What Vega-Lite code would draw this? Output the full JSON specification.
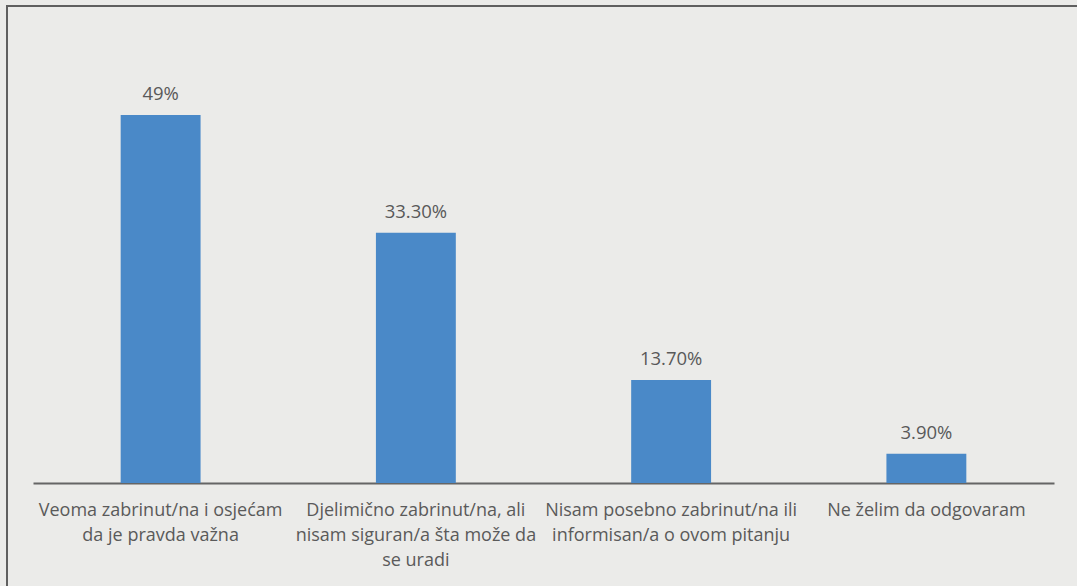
{
  "$schema": "https://vega.github.io/schema/vega-lite/v6.json",
  "autosize": "none",
  "padding": {"left": 7, "top": 6, "right": 0, "bottom": 0},
  "width": 1080,
  "height": 600,
  "background": "#ebebe9",
  "config": {
    "view": {"stroke": "#5f5f5f", "strokeWidth": 2},
    "font": "Open Sans"
  },
  "data": {
    "values": [
      {"category": "Veoma zabrinut/na i osjećam|da je pravda važna", "value": 49, "label": "49%"},
      {"category": "Djelimično zabrinut/na, ali|nisam siguran/a šta može da|se uradi", "value": 33.3, "label": "33.30%"},
      {"category": "Nisam posebno zabrinut/na ili|informisan/a o ovom pitanju", "value": 13.7, "label": "13.70%"},
      {"category": "Ne želim da odgovaram", "value": 3.9, "label": "3.90%"}
    ]
  },
  "encoding": {
    "x": {
      "field": "category",
      "type": "nominal",
      "sort": null,
      "scale": {"range": [26, 1047], "paddingInner": 0.687, "paddingOuter": 0.3435},
      "axis": {
        "title": null,
        "labelAngle": 0,
        "offset": -123,
        "ticks": false,
        "domainColor": "#656565",
        "domainWidth": 2,
        "labelExpr": "split(datum.label, '|')",
        "labelFontSize": 18,
        "labelLineHeight": 25,
        "labelColor": "#5a5a5a",
        "labelPadding": 18,
        "labelBaseline": "top",
        "labelLimit": 400,
        "labelOverlap": false,
        "labelFont": "Open Sans"
      }
    },
    "y": {
      "field": "value",
      "type": "quantitative",
      "scale": {"domain": [0, 63.5], "range": [477, 0], "nice": false, "zero": true},
      "axis": null
    }
  },
  "layer": [
    {"mark": {"type": "bar", "color": "#4a89c8"}},
    {
      "mark": {"type": "text", "baseline": "bottom", "dy": -11, "fontSize": 18.5, "color": "#595959", "font": "Open Sans"},
      "encoding": {"text": {"field": "label"}}
    }
  ]
}
